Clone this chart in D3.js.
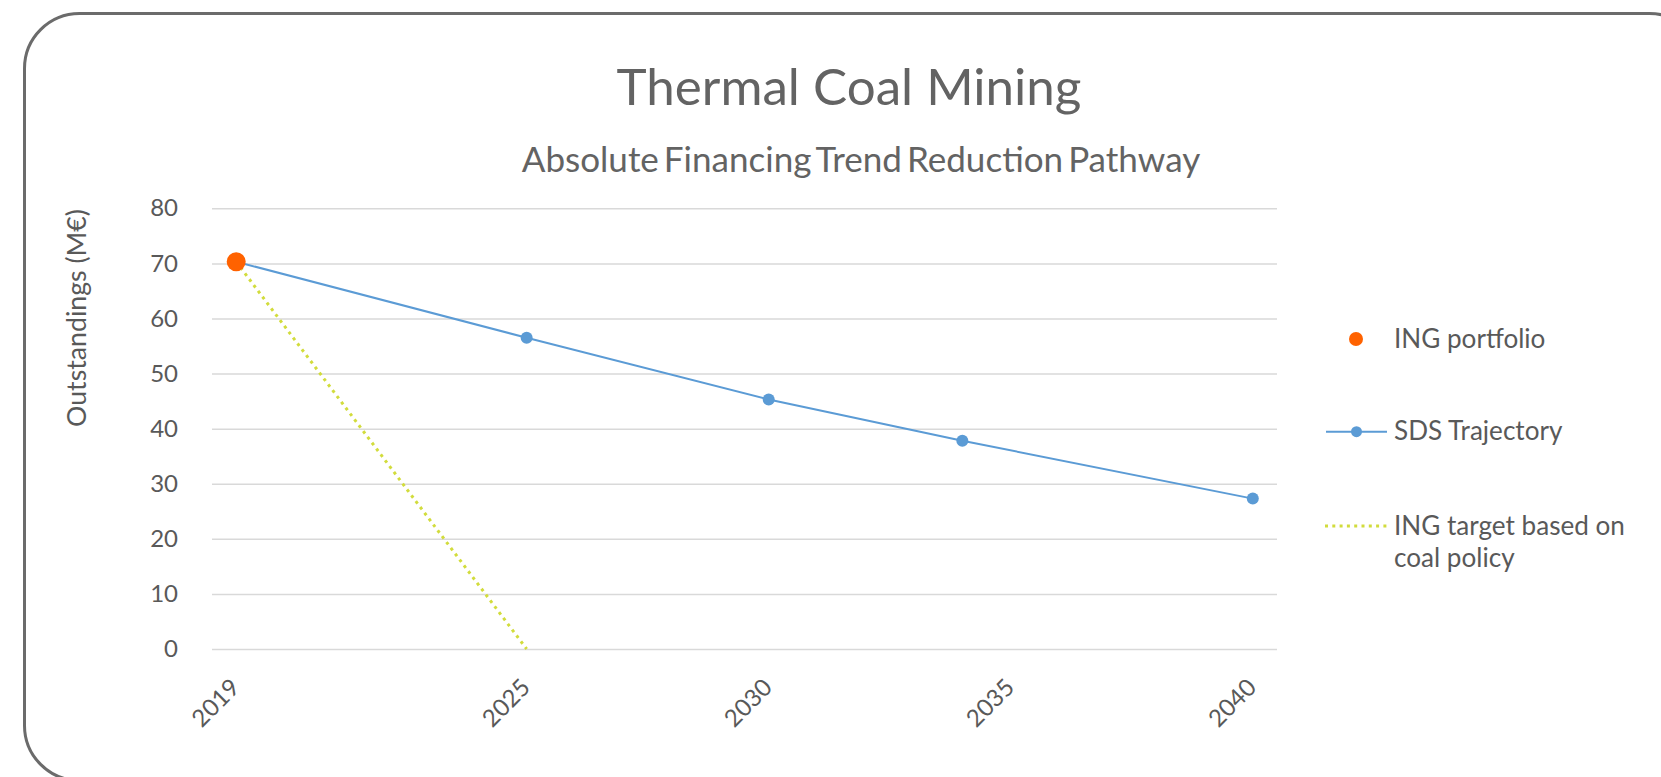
<!DOCTYPE html>
<html>
<head>
<meta charset="utf-8">
<script src="https://cdn.jsdelivr.net/npm/d3@7"></script>
<style>
  html, body { margin: 0; padding: 0; background: #ffffff; overflow: hidden; }
  text { font-family: Lato, "Open Sans", sans-serif; fill: #595959; }
</style>
</head>
<body>
<div id="chart-container"></div>
<script>
// DATA
const TITLE = "Thermal Coal Mining";
const SUBTITLE = "Absolute Financing Trend Reduction Pathway";
const Y_LABEL = "Outstandings (M€)";

const X_TICKS = [2019, 2025, 2030, 2035, 2040];
const Y_TICKS = [0, 10, 20, 30, 40, 50, 60, 70, 80];

const PORTFOLIO_YEARS = [2019];
const PORTFOLIO_VALUES = [70.3];

const SDS_YEARS = [2019, 2025, 2030, 2034, 2040];
const SDS_VALUES = [70.3, 56.5, 45.3, 37.8, 27.3];

const TARGET_YEARS = [2019, 2025];
const TARGET_VALUES = [70.3, 0];

const LEGEND_LABELS = [["ING portfolio"], ["SDS Trajectory"], ["ING target based on", "coal policy"]];

// COLORS
const ORANGE = "#ff6200";
const BLUE = "#5b9bd5";
const GREEN = "#d2dc3c";
const GRID = "#d9d9d9";

const WIDTH = 1661;
const HEIGHT = 777;

const SVG_SELECTION = d3.select("#chart-container").append("svg")
  .attr("width", WIDTH)
  .attr("height", HEIGHT);

// SCALES
const X = d3.scaleLinear().domain([2018.5, 2040.5]).range([212, 1277]);
const Y = d3.scaleLinear().domain([0, 80]).range([649, 208.3]);

// fit a text element to a given width by tuning its font size
function fitWidth(sel, size, target) {
  sel.style("font-size", size + "px");
  let w = sel.node().getComputedTextLength();
  sel.style("font-size", (size * target / w) + "px");
  return size * target / w;
}

// FRAME
SVG_SELECTION.append("rect")
  .attr("x", 24.5).attr("y", 13.5)
  .attr("width", 1680).attr("height", 767)
  .attr("rx", 55).attr("ry", 55)
  .attr("fill", "#ffffff")
  .attr("stroke", "#6b6b6b")
  .attr("stroke-width", 3);

// TITLES
let title = SVG_SELECTION.append("text")
  .attr("x", 849).attr("y", 105)
  .attr("text-anchor", "middle")
  .style("fill", "#636363")
  .text(TITLE);
fitWidth(title, 51, 465);

let subtitle = SVG_SELECTION.append("text")
  .attr("x", 861).attr("y", 172)
  .attr("text-anchor", "middle")
  .style("fill", "#636363")
  .style("word-spacing", "-4px")
  .text(SUBTITLE);
fitWidth(subtitle, 30, 676);

// GRID + Y AXIS
const Y_AXIS = d3.axisLeft(Y)
  .tickValues(Y_TICKS)
  .tickSize(-(X.range()[1] - X.range()[0]))
  .tickPadding(34)
  .tickFormat(d3.format("d"));

const Y_AXIS_G = SVG_SELECTION.append("g")
  .attr("transform", "translate(212,0)")
  .call(Y_AXIS);
Y_AXIS_G.select(".domain").remove();
Y_AXIS_G.selectAll(".tick line")
  .attr("stroke", GRID)
  .attr("stroke-width", 1.5);
Y_AXIS_G.selectAll(".tick text")
  .attr("font-family", null)
  .style("font-size", "24px")
  .style("fill", "#595959");

let yLabel = SVG_SELECTION.append("text")
  .attr("transform", "translate(86,318) rotate(-90)")
  .attr("text-anchor", "middle")
  .text(Y_LABEL);
fitWidth(yLabel, 26, 218);

// X AXIS
SVG_SELECTION.append("g").selectAll("text")
  .data(X_TICKS)
  .join("text")
  .attr("transform", d => "translate(" + (X(d) + 5) + ",689) rotate(-45)")
  .attr("text-anchor", "end")
  .style("font-size", "24px")
  .text(d => d);

// SERIES
const LINE = d3.line().x(d => X(d[0])).y(d => Y(d[1]));

SVG_SELECTION.append("path")
  .datum(d3.zip(TARGET_YEARS, TARGET_VALUES))
  .attr("d", LINE)
  .attr("fill", "none")
  .attr("stroke", GREEN)
  .attr("stroke-width", 3)
  .attr("stroke-dasharray", "3,4.3");

SVG_SELECTION.append("path")
  .datum(d3.zip(SDS_YEARS, SDS_VALUES))
  .attr("d", LINE)
  .attr("fill", "none")
  .attr("stroke", BLUE)
  .attr("stroke-width", 2);

SVG_SELECTION.append("g").selectAll("circle")
  .data(d3.zip(SDS_YEARS, SDS_VALUES))
  .join("circle")
  .attr("cx", d => X(d[0]))
  .attr("cy", d => Y(d[1]))
  .attr("r", 6)
  .attr("fill", BLUE);

SVG_SELECTION.append("g").selectAll("circle")
  .data(d3.zip(PORTFOLIO_YEARS, PORTFOLIO_VALUES))
  .join("circle")
  .attr("cx", d => X(d[0]))
  .attr("cy", d => Y(d[1]))
  .attr("r", 9.5)
  .attr("fill", ORANGE);

// LEGEND
const LEGEND_Y = [339, 431.7, 526];
const LEGEND_BASELINE = [347.7, 440, 534.5];

SVG_SELECTION.append("circle")
  .attr("cx", 1356).attr("cy", LEGEND_Y[0])
  .attr("r", 7).attr("fill", ORANGE);

SVG_SELECTION.append("line")
  .attr("x1", 1326).attr("x2", 1387)
  .attr("y1", LEGEND_Y[1]).attr("y2", LEGEND_Y[1])
  .attr("stroke", BLUE).attr("stroke-width", 2);
SVG_SELECTION.append("circle")
  .attr("cx", 1356.5).attr("cy", LEGEND_Y[1])
  .attr("r", 5.5).attr("fill", BLUE);

SVG_SELECTION.append("line")
  .attr("x1", 1325).attr("x2", 1388)
  .attr("y1", LEGEND_Y[2]).attr("y2", LEGEND_Y[2])
  .attr("stroke", GREEN).attr("stroke-width", 3)
  .attr("stroke-dasharray", "3,4.3");

let legendText = SVG_SELECTION.append("g").selectAll("text")
  .data(LEGEND_LABELS)
  .join("text")
  .attr("x", 1394)
  .attr("y", (d, i) => LEGEND_BASELINE[i]);
legendText.selectAll("tspan")
  .data(d => d)
  .join("tspan")
  .attr("x", 1394)
  .attr("dy", (d, i) => i == 0 ? 0 : 32)
  .text(d => d);

let legendSize = fitWidth(d3.select(legendText.nodes()[2]).select("tspan"), 26, 231);
legendText.style("font-size", legendSize + "px");
legendText.selectAll("tspan").style("font-size", null);
</script>
</body>
</html>
